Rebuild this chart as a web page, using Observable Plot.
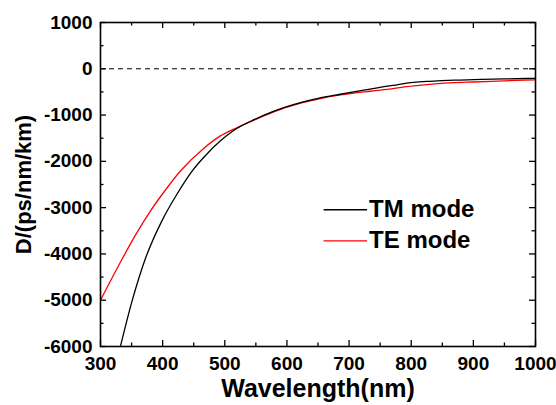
<!DOCTYPE html>
<html>
<head>
<meta charset="utf-8">
<script src="https://cdn.jsdelivr.net/npm/d3@7"></script>
<script src="https://cdn.jsdelivr.net/npm/@observablehq/plot@0.6"></script>
<style>
  html, body { margin: 0; padding: 0; background: #fff; }
  #chart svg { display: block; }
  #chart svg text { font-weight: bold; }
</style>
</head>
<body>
<div id="chart"></div>
<script>
// Data
const tmWavelength = [332, 351, 372, 399, 423, 448, 466, 493, 512, 520, 547, 574, 600, 622, 650, 686, 734, 770, 804, 830, 869, 900, 950, 1000];
const tmD = [-6000, -5010, -4110, -3280, -2710, -2200, -1916, -1555, -1354, -1285, -1100, -940, -815, -730, -640, -550, -440, -360, -295, -270, -245, -235, -220, -205];
const teWavelength = [300, 332, 356, 380, 400, 429, 466, 493, 520, 547, 574, 600, 622, 650, 686, 734, 751, 804, 869, 900, 950, 1000];
const teD = [-5000, -4180, -3600, -3080, -2700, -2203, -1720, -1450, -1268, -1110, -960, -830, -740, -655, -565, -485, -460, -370, -300, -285, -260, -238];

const xMajorTicks = [300, 400, 500, 600, 700, 800, 900, 1000];
const xMinorTicks = [350, 450, 550, 650, 750, 850, 950];
const yMajorTicks = [-6000, -5000, -4000, -3000, -2000, -1000, 0, 1000];
const yMinorTicks = [-5500, -4500, -3500, -2500, -1500, -500, 500];

const seriesNames = ["TM mode", "TE mode"];
const seriesColors = ["#000000", "#ff0000"];
// legend anchor positions in data units
const legendX1 = [659, 659];
const legendX2 = [729, 729];
const legendY = [-3046, -3716];

const tm = tmWavelength.map((x, i) => ({x, y: tmD[i], s: seriesNames[0]}));
const te = teWavelength.map((x, i) => ({x, y: teD[i], s: seriesNames[1]}));
const legend = seriesNames.map((s, i) => ({s, c: seriesColors[i], x1: legendX1[i], x2: legendX2[i], y: legendY[i]}));

const W = 556, H = 405;
const mL = 100, mR = 21, mT = 22, mB = 59;
const innerW = W - mL - mR, innerH = H - mT - mB;
const font = "'Liberation Sans', Arial, sans-serif";

const chart = Plot.plot({
  width: W,
  height: H,
  marginLeft: mL,
  marginRight: mR,
  marginTop: mT,
  marginBottom: mB,
  style: {fontFamily: font, fontWeight: "bold", fontSize: "19px", background: "#fff", color: "#000"},
  x: {domain: [300, 1000]},
  y: {domain: [-6000, 1000]},
  color: {type: "identity"},
  marks: [
    Plot.ruleY([0], {stroke: "#000", strokeWidth: 1, strokeDasharray: "5,4"}),
    Plot.line(te, {x: "x", y: "y", stroke: seriesColors[1], strokeWidth: 1.3, curve: "monotone-x", clip: true}),
    Plot.line(tm, {x: "x", y: "y", stroke: seriesColors[0], strokeWidth: 1.3, curve: "monotone-x", clip: true}),
    // inward ticks: bottom & top
    Plot.tickX(xMajorTicks, {x: d => d, stroke: "#000", strokeWidth: 1.3, insetTop: innerH - 6}),
    Plot.tickX(xMajorTicks, {x: d => d, stroke: "#000", strokeWidth: 1.3, insetBottom: innerH - 6}),
    Plot.tickX(xMinorTicks, {x: d => d, stroke: "#000", strokeWidth: 1.3, insetTop: innerH - 3.5}),
    Plot.tickX(xMinorTicks, {x: d => d, stroke: "#000", strokeWidth: 1.3, insetBottom: innerH - 3.5}),
    // inward ticks: left & right
    Plot.tickY(yMajorTicks, {y: d => d, stroke: "#000", strokeWidth: 1.3, insetRight: innerW - 6}),
    Plot.tickY(yMajorTicks, {y: d => d, stroke: "#000", strokeWidth: 1.3, insetLeft: innerW - 6}),
    Plot.tickY(yMinorTicks, {y: d => d, stroke: "#000", strokeWidth: 1.3, insetRight: innerW - 3.5}),
    Plot.tickY(yMinorTicks, {y: d => d, stroke: "#000", strokeWidth: 1.3, insetLeft: innerW - 3.5}),
    Plot.frame({stroke: "#000", strokeWidth: 1.6}),
    Plot.axisX({ticks: xMajorTicks, tickSize: 0, tickPadding: 10, fontSize: 19, fontWeight: "bold", label: null, tickFormat: d => String(d)}),
    Plot.axisY({ticks: yMajorTicks, tickSize: 0, tickPadding: 8, fontSize: 19, fontWeight: "bold", label: null, tickFormat: d => String(d)}),
    Plot.text(["Wavelength(nm)"], {frameAnchor: "bottom", dy: 42, textAnchor: "middle", lineAnchor: "middle", fontSize: 25, fontWeight: "bold", fill: "#000"}),
    Plot.text(["D/(ps/nm/km)"], {frameAnchor: "left", dx: -77, rotate: -90, textAnchor: "middle", lineAnchor: "middle", fontSize: 22, fontWeight: "bold", fill: "#000"}),
    // legend
    Plot.link(legend, {x1: "x1", x2: "x2", y1: "y", y2: "y", stroke: "c", strokeWidth: 1.3}),
    Plot.text(legend, {x: "x2", y: "y", text: "s", textAnchor: "start", dx: 2, fontSize: 24, fontWeight: "bold", fill: "#000"})
  ]
});

document.getElementById("chart").appendChild(chart);
</script>
</body>
</html>
